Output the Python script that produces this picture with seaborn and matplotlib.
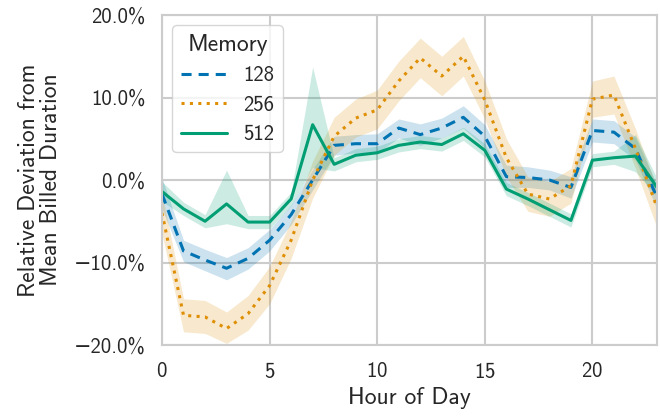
import numpy as np
import pandas as pd
import matplotlib
matplotlib.use("Agg")
import matplotlib.pyplot as plt
import seaborn as sns
from matplotlib.ticker import PercentFormatter

# ---- data (percent) ----
hours = list(range(24))
memories = ["128", "256", "512"]

mean_128 = [-1.7, -8.6, -9.7, -10.7, -9.5, -7.3, -4.2, 0.0, 4.2, 4.4, 4.4, 6.3,
            5.5, 6.3, 7.6, 5.3, 0.4, 0.3, 0.0, -0.9, 6.0, 5.8, 3.8, -2.1]
hi_128 = [0.2, -7.3, -8.4, -9.4, -8.2, -6.0, -3.0, 1.3, 5.3, 5.5, 5.6, 7.4,
          6.8, 7.5, 9.0, 6.7, 1.8, 1.6, 1.2, 0.4, 7.4, 7.2, 5.2, -0.6]
lo_128 = [-3.5, -9.9, -11.0, -12.1, -10.8, -8.6, -5.4, -1.2, 3.0, 3.3, 3.3, 5.1,
          4.2, 5.1, 6.3, 3.9, -0.9, -0.9, -1.2, -2.2, 4.6, 4.4, 2.4, -3.5]

mean_256 = [-4.0, -16.4, -16.6, -18.0, -16.2, -12.8, -7.3, 0.0, 5.3, 7.5, 8.5, 12.0,
            14.8, 12.6, 15.0, 9.7, 2.7, -1.7, -2.3, -0.7, 9.8, 10.3, 3.8, -3.3]
hi_256 = [-1.6, -14.4, -14.6, -16.0, -14.0, -10.5, -5.0, 2.3, 7.6, 9.8, 10.9, 14.4,
          17.2, 15.0, 17.4, 12.0, 5.0, 0.4, -0.2, 1.4, 12.0, 12.6, 6.2, -1.0]
lo_256 = [-6.5, -18.4, -18.6, -19.8, -18.2, -15.0, -9.5, -2.2, 3.0, 5.2, 6.2, 9.6,
          12.4, 10.2, 12.6, 7.4, 0.4, -3.8, -4.4, -2.8, 7.6, 8.0, 1.4, -5.8]

mean_512 = [-1.4, -3.5, -5.0, -2.9, -5.1, -5.1, -2.3, 6.7, 1.9, 3.0, 3.3, 4.2,
            4.6, 4.3, 5.6, 3.6, -1.1, -2.3, -3.6, -4.9, 2.4, 2.7, 2.9, -0.9]
hi_512 = [-0.2, -2.7, -4.2, 1.2, -4.3, -4.3, -1.5, 13.7, 2.7, 3.8, 4.1, 5.0,
          5.4, 5.1, 6.4, 4.4, -0.3, -1.5, -2.8, -4.1, 3.2, 3.5, 5.5, 0.2]
lo_512 = [-2.6, -4.3, -5.8, -5.3, -5.9, -5.9, -3.1, 1.5, 1.1, 2.2, 2.5, 3.4,
          3.8, 3.5, 4.8, 2.8, -1.9, -3.1, -4.4, -5.7, 1.6, 1.9, 1.0, -2.0]

series = {
    "128": (mean_128, lo_128, hi_128),
    "256": (mean_256, lo_256, hi_256),
    "512": (mean_512, lo_512, hi_512),
}

rows = []
for mem in memories:
    m, lo, hi = series[mem]
    for h, a, b, c in zip(hours, lo, m, hi):
        for v in (a, b, c):
            rows.append({"Hour of Day": h, "Memory": mem, "value": v})
df = pd.DataFrame(rows)

# ---- style ----
sns.set_theme(style="whitegrid")
plt.rcParams["font.family"] = ["cmss10", "DejaVu Sans"]
plt.rcParams["axes.formatter.use_mathtext"] = True
plt.rcParams["axes.unicode_minus"] = True

fig = plt.figure(figsize=(6.6, 4.18), dpi=100)
ax = fig.add_axes([162 / 660, 1 - 345 / 418, (657 - 162) / 660, (345 - 15) / 418])

palette = sns.color_palette("colorblind", 3)
sns.lineplot(
    data=df, x="Hour of Day", y="value", hue="Memory", style="Memory",
    hue_order=memories, style_order=memories,
    palette=palette,
    dashes={"128": (3.3, 2.3), "256": (1, 1.75), "512": ""},
    estimator="median", errorbar=("pi", 100),
    err_kws={"linewidth": 0, "alpha": 0.2},
    linewidth=2.2, ax=ax,
)

ax.set_xlim(0, 23)
ax.set_ylim(-20, 20)
ax.set_xticks([0, 5, 10, 15, 20])
ax.set_yticks([-20, -10, 0, 10, 20])
ax.yaxis.set_major_formatter(PercentFormatter(decimals=1))
ax.tick_params(labelsize=15, pad=6)
ax.set_xlabel("Hour of Day", fontsize=17)
ax.set_ylabel("Relative Deviation from\nMean Billed Duration", fontsize=17,
              linespacing=1.0, labelpad=8)

for s in ax.spines.values():
    s.set_visible(True)
    s.set_color(".8")
    s.set_linewidth(1.5)
ax.grid(True, color=".8", linewidth=1.5)

leg = ax.legend(title="Memory", loc="upper left", fontsize=15,
                title_fontsize=17, handlelength=2.2)
leg.get_frame().set_edgecolor(".8")

fig.savefig("out.png", dpi=100)
